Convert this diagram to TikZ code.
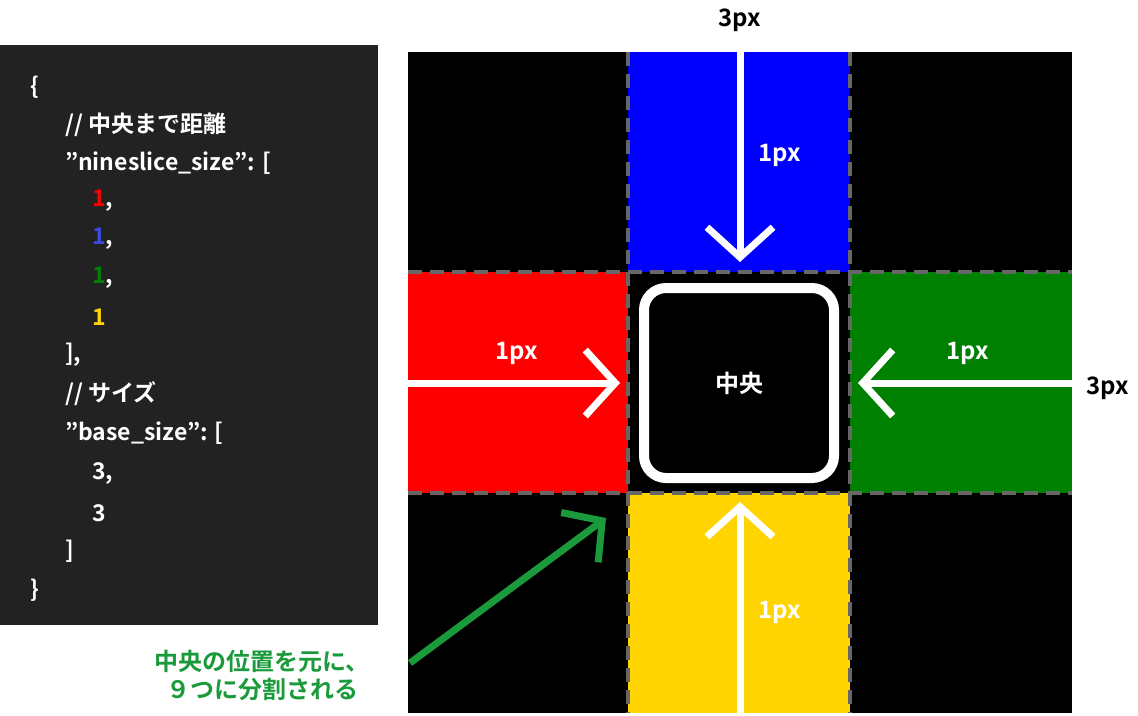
\documentclass[tikz,border=0pt]{standalone}
\usepackage{fontspec}
\setmainfont{Noto Sans CJK JP}[BoldFont={Noto Sans CJK JP Bold}]
\usetikzlibrary{arrows.meta}
\definecolor{codebg}{HTML}{222222}
\definecolor{cgreen}{HTML}{1A9A3A}
\definecolor{cyel}{HTML}{FFD400}
\definecolor{cblue}{HTML}{3A4BE0}
\begin{document}
\begin{tikzpicture}[x=1pt,y=-1pt,
  code/.style={anchor=west,text=white,font=\bfseries\fontsize{23}{26}\selectfont,inner sep=0},
  lbl/.style={font=\bfseries\fontsize{24}{28}\selectfont,inner sep=0},
  grid/.style={draw=gray!80!black,line width=4pt,dash pattern=on 14pt off 8pt},
  warr/.style={white,line width=7pt,-{Straight Barb[length=30pt,width=66pt,line width=7pt]}},
  garr/.style={cgreen,line width=7pt,-{Straight Barb[length=28pt,width=62pt,line width=7pt]}}]
\useasboundingbox (0,0) rectangle (1138,715);
\fill[codebg] (0,45) rectangle (378,625);
\node[code] (c1) at (30,87) {\{};
\node[code] (c2) at (65,125) {// 中央まで距離};
\node[code] (c3) at (65,163) {"nineslice\_size": [};
\node[code,text=red] (c4) at (92,201) {1\textcolor{white}{,}};
\node[code,text=cblue] (c5) at (92,239) {1\textcolor{white}{,}};
\node[code,text=green!50!black] (c6) at (92,278) {1\textcolor{white}{,}};
\node[code,text=cyel] (c7) at (92,317) {1};
\node[code] (c8) at (65,355) {],};
\node[code] (c9) at (65,394) {// サイズ};
\node[code] (c10) at (65,433) {"base\_size": [};
\node[code] (c11) at (92,474) {3,};
\node[code] (c12) at (92,513) {3};
\node[code] (c13) at (65,551) {]};
\node[code] (c14) at (30,590) {\}};
% grid
\fill[black] (408,52) rectangle (1072,713);
\fill[blue] (628,52) rectangle (850,272);
\fill[red] (408,272) rectangle (628,493);
\fill[green!50!black] (850,272) rectangle (1072,493);
\fill[cyel] (628,493) rectangle (850,713);
\draw[grid] (628,52) -- (628,713);
\draw[grid] (850,52) -- (850,713);
\draw[grid] (408,272) -- (1072,272);
\draw[grid] (408,493) -- (1072,493);
\node[draw=white,line width=10pt,fill=black,rounded corners=22pt,minimum size=190pt,text=white,lbl] (ctr) at (739,383) {中央};
\coordinate (tA) at (740,52); \coordinate (tB) at (740,262);
\coordinate (lA) at (408,383); \coordinate (lB) at (620,383);
\coordinate (rA) at (1072,383); \coordinate (rB) at (858,383);
\coordinate (bA) at (740,713); \coordinate (bB) at (740,502);
\draw[warr] (tA) -- (tB);
\draw[warr] (lA) -- (lB);
\draw[warr] (rA) -- (rB);
\draw[warr] (bA) -- (bB);
\node[lbl] (w1) at (740,20) {3px};
\node[lbl] (w2) at (1108,388) {3px};
\node[lbl,text=white] (p1) at (780,155) {1px};
\node[lbl,text=white] (p2) at (517,353) {1px};
\node[lbl,text=white] (p3) at (968,353) {1px};
\node[lbl,text=white] (p4) at (780,612) {1px};
\node[lbl,text=cgreen,align=center] (note) at (262,675) {中央の位置を元に、\\９つに分割される};
\coordinate (gA) at (410,663); \coordinate (gB) at (606,518);
\draw[garr] (gA) -- (gB);
\end{tikzpicture}
\end{document}
